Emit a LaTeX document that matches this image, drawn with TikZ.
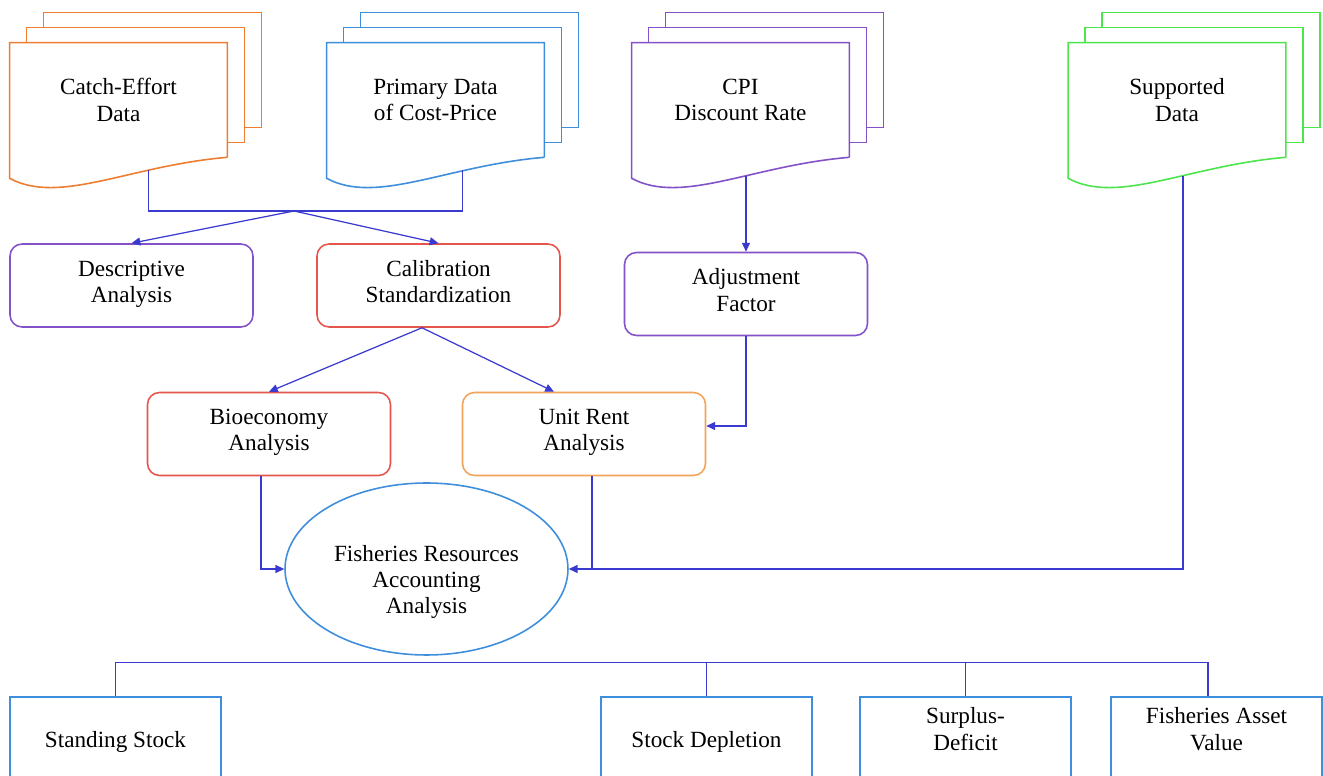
\documentclass[tikz,border=0pt]{standalone}
\usepackage{fontspec}
\setmainfont{Liberation Serif}
\usetikzlibrary{shapes.geometric,arrows.meta,calc}
\definecolor{docorange}{HTML}{ED7D31}
\definecolor{docblue}{HTML}{3F8EDB}
\definecolor{docpurple}{HTML}{8352C8}
\definecolor{docgreen}{HTML}{4CE64C}
\definecolor{boxred}{HTML}{E5554C}
\definecolor{boxorange}{HTML}{F2A45A}
\definecolor{linkblue}{HTML}{3A3AD0}

\begin{document}
\begin{tikzpicture}[x=0.02cm, y=-0.02cm,
    font=\fontsize{13.2}{15}\selectfont,
    doc/.style={minimum width=4.34cm, minimum height=2.28cm, inner sep=0pt, align=center},
    page/.style={line width=0.9pt},
    box/.style={rectangle, draw, rounded corners=0.24cm, line width=0.9pt, minimum width=4.86cm, minimum height=1.66cm, align=center,
      execute at begin node=\strut, execute at end node=\strut},
    outbox/.style={rectangle, draw=docblue, line width=0.9pt, minimum width=4.22cm, minimum height=1.8cm, align=center},
    link/.style={linkblue, line width=0.7pt},
    arrow/.style={link, -{Triangle[length=5pt, width=4.5pt]}}
]
\clip (0,0) rectangle (1323,776);
\fill[white] (0,0) rectangle (1323,776);

\node[doc] (catch) at (118.5,100) {Catch-Effort\\Data};
\node[doc] (primary) at (435.5,100) {Primary Data\\of Cost-Price};
\node[doc] (cpi) at (740.5,100) {CPI\\Discount Rate};
\node[doc] (supported) at (1177,100) {Supported\\Data};

\foreach \n/\c in {catch/docorange, primary/docblue, cpi/docpurple, supported/docgreen} {
  \draw[\c, page] (\n.south east) -- (\n.north east) -- (\n.north west) -- ($(\n.south west)+(0,21)$)
    .. controls ($(\n.south west)+(50,48)$) and ($(\n.south east)+(-97,8)$) .. (\n.south east);
  \foreach \k in {1,2}
    \draw[\c, page] ([shift={(17*\k,15-15*\k)}]\n.north west) -- ++(0,-15)
      -| ([shift={(17*\k,-15*\k)}]\n.south east) -- ++(-17,0);
}

\node[box, draw=docpurple] (desc) at (131.5,285.5) {Descriptive\\Analysis};
\node[box, draw=boxred] (calib) at (438.5,285.5) {Calibration\\Standardization};
\node[box, draw=docpurple] (adjust) at (746,294) {Adjustment\\Factor};
\node[box, draw=boxred] (bioeco) at (269,434) {Bioeconomy\\Analysis};
\node[box, draw=boxorange] (unitrent) at (584,434) {Unit Rent\\Analysis};
\node[ellipse, draw=docblue, line width=0.9pt, minimum width=5.66cm, minimum height=3.44cm, inner sep=0pt,
  label={[align=center, yshift=-0.26cm]center:Fisheries Resources\\Accounting\\Analysis}] (fra) at (426.5,569) {};

\node[outbox] (standing) at (115.5,742) {Standing Stock};
\node[outbox] (depletion) at (706.5,742) {Stock Depletion};
\node[outbox, label={[align=center, yshift=0.26cm]center:Surplus-\\Deficit}] (surplus) at (965.5,742) {};
\node[outbox, label={[align=center, yshift=0.26cm]center:Fisheries Asset\\Value}] (asset) at (1216.5,742) {};

\coordinate (split) at (294,211);
\draw[link] ($(catch.south)+(30,13)$) |- (split) -| ($(primary.south)+(27,13)$);
\draw[arrow] (split) -- (desc.north);
\draw[arrow] (split) -- (calib.north);
\draw[arrow] ($(adjust.north |- cpi.south)+(0,19)$) -- (adjust.north);
\draw[arrow] (adjust.south) |- ([yshift=0.16cm]unitrent.east);
\draw[arrow] ([xshift=-0.33cm]calib.south) -- (bioeco.north);
\draw[arrow] ([xshift=-0.33cm]calib.south) -- ([xshift=-0.6cm]unitrent.north);
\draw[arrow] ([xshift=-0.16cm]bioeco.south) |- (fra.west);
\draw[link] ([xshift=0.16cm]unitrent.south) -- ([xshift=0.16cm]unitrent.south |- fra.east);
\draw[arrow] ($(supported.south)+(6,19)$) |- (fra.east);

\draw[link] (standing.north) -- ++(0,-34) -| ([xshift=-0.17cm]asset.north);
\foreach \b in {depletion, surplus}
  \draw[link] (\b.north) -- ++(0,-34);
\end{tikzpicture}
\end{document}
